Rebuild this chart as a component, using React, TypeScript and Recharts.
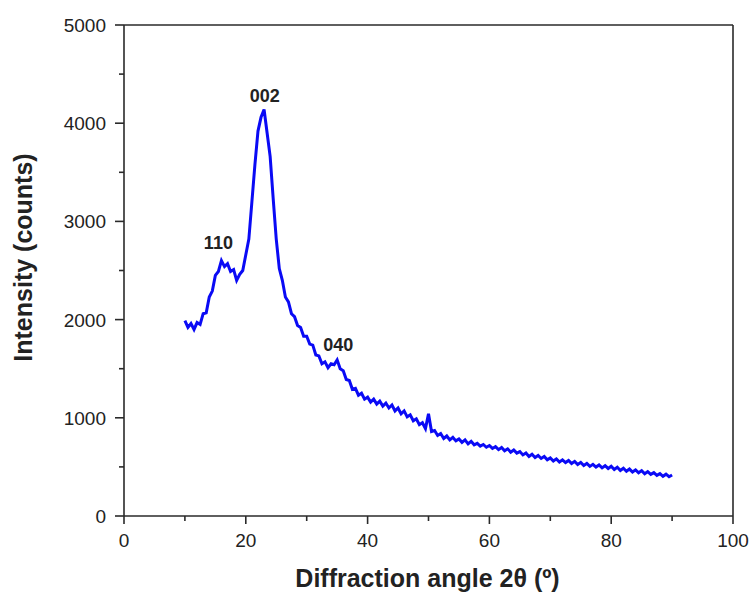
import React from 'react';
import { LineChart, Line, XAxis, YAxis, ReferenceLine, ReferenceDot } from 'recharts';

// diffraction angle 2θ (deg), sampled every 0.5°
const angles = [
  10, 10.5, 11, 11.5, 12, 12.5, 13, 13.5, 14, 14.5,
  15, 15.5, 16, 16.5, 17, 17.5, 18, 18.5, 19, 19.5,
  20, 20.5, 21, 21.5, 22, 22.5, 23, 23.5, 24, 24.5,
  25, 25.5, 26, 26.5, 27, 27.5, 28, 28.5, 29, 29.5,
  30, 30.5, 31, 31.5, 32, 32.5, 33, 33.5, 34, 34.5,
  35, 35.5, 36, 36.5, 37, 37.5, 38, 38.5, 39, 39.5,
  40, 40.5, 41, 41.5, 42, 42.5, 43, 43.5, 44, 44.5,
  45, 45.5, 46, 46.5, 47, 47.5, 48, 48.5, 49, 49.5,
  50, 50.5, 51, 51.5, 52, 52.5, 53, 53.5, 54, 54.5,
  55, 55.5, 56, 56.5, 57, 57.5, 58, 58.5, 59, 59.5,
  60, 60.5, 61, 61.5, 62, 62.5, 63, 63.5, 64, 64.5,
  65, 65.5, 66, 66.5, 67, 67.5, 68, 68.5, 69, 69.5,
  70, 70.5, 71, 71.5, 72, 72.5, 73, 73.5, 74, 74.5,
  75, 75.5, 76, 76.5, 77, 77.5, 78, 78.5, 79, 79.5,
  80, 80.5, 81, 81.5, 82, 82.5, 83, 83.5, 84, 84.5,
  85, 85.5, 86, 86.5, 87, 87.5, 88, 88.5, 89, 89.5,
  90,
];

// intensity (counts)
const counts = [
  1990, 1920, 1960, 1900, 1970, 1950, 2060, 2070, 2230, 2290,
  2450, 2490, 2600, 2540, 2570, 2490, 2510, 2400, 2460, 2500,
  2660, 2820, 3200, 3580, 3920, 4060, 4140, 3900, 3660, 3230,
  2820, 2520, 2400, 2230, 2180, 2060, 2030, 1940, 1920, 1830,
  1830, 1750, 1740, 1640, 1630, 1550, 1570, 1510, 1550, 1540,
  1590, 1500, 1480, 1390, 1380, 1290, 1300, 1230, 1250, 1190,
  1210, 1160, 1190, 1140, 1170, 1120, 1150, 1100, 1130, 1070,
  1100, 1040, 1070, 1010, 1030, 970, 990, 930, 950, 890,
  1040, 860, 870, 820, 840, 790, 815, 775, 800, 765,
  785, 750, 775, 735, 760, 725, 740, 712, 728, 700,
  718, 688, 706, 676, 698, 664, 684, 650, 672, 640,
  656, 622, 642, 606, 628, 596, 616, 586, 606, 572,
  592, 560, 582, 550, 572, 544, 566, 534, 556, 524,
  546, 514, 536, 505, 526, 498, 520, 490, 512, 484,
  506, 474, 496, 464, 486, 456, 478, 448, 470, 440,
  462, 430, 452, 424, 442, 414, 432, 404, 426, 400,
  418,
];

const xTicks = [0, 10, 20, 30, 40, 50, 60, 70, 80, 90, 100];
const yTicks = [0, 500, 1000, 1500, 2000, 2500, 3000, 3500, 4000, 4500, 5000];

const peakLabels = ['110', '002', '040'];
const peakAngles = [15.5, 23.1, 35.2];
const peakCounts = [2780, 4280, 1745];

const data = angles.map((a, i) => ({ angle: a, counts: counts[i] }));

const FONT = '"Liberation Sans", Arial, sans-serif';
const AXIS = '#2a2a2a';
const TEXT = '#222';

const YTick = (props: any) => {
  const { x, y, payload } = props;
  const major = payload.value % 1000 === 0;
  return (
    <g>
      <line x1={x} x2={x - (major ? 9 : 5)} y1={y} y2={y} stroke={AXIS} strokeWidth={1.6} />
      {major && (
        <text x={x - 18} y={y} dy={7} textAnchor="end" fontSize={19} fill={TEXT} fontFamily={FONT}>
          {payload.value}
        </text>
      )}
    </g>
  );
};

const XTick = (props: any) => {
  const { x, y, payload } = props;
  const major = payload.value % 20 === 0;
  return (
    <g>
      <line x1={x} x2={x} y1={y} y2={y + (major ? 8 : 5)} stroke={AXIS} strokeWidth={1.6} />
      {major && (
        <text x={x} y={y + 31} textAnchor="middle" fontSize={19} fill={TEXT} fontFamily={FONT}>
          {payload.value}
        </text>
      )}
    </g>
  );
};

const YTitle = (props: any) => {
  const vb = props.viewBox;
  const cx = vb.x + vb.width - 101;
  const cy = vb.y + vb.height / 2 - 13;
  return (
    <text
      x={cx}
      y={cy}
      transform={`rotate(-90, ${cx}, ${cy})`}
      textAnchor="middle"
      dominantBaseline="central"
      fontSize={25}
      fontWeight="bold"
      fill={TEXT}
      fontFamily={FONT}
    >
      Intensity (counts)
    </text>
  );
};

const XTitle = (props: any) => {
  const vb = props.viewBox;
  return (
    <text
      x={vb.x + vb.width / 2 - 1}
      y={vb.y + 71}
      textAnchor="middle"
      fontSize={25}
      fontWeight="bold"
      fill={TEXT}
      fontFamily={FONT}
    >
      Diffraction angle 2θ (º)
    </text>
  );
};

export default function App() {
  return (
    <div style={{ width: 752, height: 594, background: '#fff' }}>
      <style>{'body { margin: 0; }'}</style>
      <LineChart
        width={752}
        height={594}
        data={data}
        margin={{ top: 25, right: 19, bottom: 38, left: 44 }}
        style={{ overflow: 'visible' }}
      >
        <XAxis
          dataKey="angle"
          type="number"
          domain={[0, 100]}
          ticks={xTicks}
          interval={0}
          tickSize={0}
          tickMargin={0}
          tickLine={false}
          tick={<XTick />}
          height={40}
          axisLine={{ stroke: AXIS, strokeWidth: 1.6 }}
          label={{ content: (p: any) => <XTitle {...p} /> }}
        />
        <YAxis
          type="number"
          domain={[0, 5000]}
          ticks={yTicks}
          interval={0}
          tickSize={0}
          tickMargin={0}
          tickLine={false}
          tick={<YTick />}
          width={80}
          axisLine={{ stroke: AXIS, strokeWidth: 1.6 }}
          label={{ content: (p: any) => <YTitle {...p} /> }}
        />
        <ReferenceLine y={5000} stroke={AXIS} strokeWidth={1.6} />
        <ReferenceLine x={100} stroke={AXIS} strokeWidth={1.6} />
        <Line
          type="linear"
          dataKey="counts"
          stroke="#0a0af5"
          strokeWidth={3}
          strokeLinejoin="miter"
          dot={false}
          isAnimationActive={false}
        />
        {peakLabels.map((lab, i) => (
          <ReferenceDot
            key={lab}
            x={peakAngles[i]}
            y={peakCounts[i]}
            r={1}
            shape={(p: any) => (
              <text
                x={p.cx}
                y={p.cy}
                dy={6}
                textAnchor="middle"
                fontSize={18}
                fontWeight="bold"
                fill={TEXT}
                fontFamily={FONT}
              >
                {lab}
              </text>
            )}
          />
        ))}
      </LineChart>
    </div>
  );
}
